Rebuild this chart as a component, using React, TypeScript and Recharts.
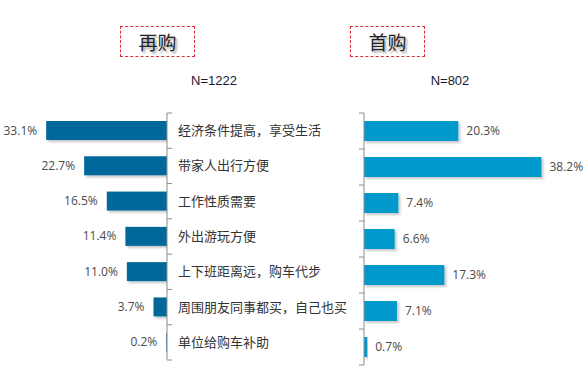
import { BarChart, Bar, XAxis, YAxis, LabelList } from "recharts";

// 购车原因（由上到下）
const reasons = [
  "经济条件提高，享受生活",
  "带家人出行方便",
  "工作性质需要",
  "外出游玩方便",
  "上下班距离远，购车代步",
  "周围朋友同事都买，自己也买",
  "单位给购车补助",
];
const rebuyPct = [33.1, 22.7, 16.5, 11.4, 11.0, 3.7, 0.2];
const firstBuyPct = [20.3, 38.2, 7.4, 6.6, 17.3, 7.1, 0.7];

const data = reasons.map((name, i) => ({
  name,
  rebuy: rebuyPct[i],
  first: firstBuyPct[i],
}));

const LABEL_FONT = "'Noto Sans CJK SC', 'Noto Sans', sans-serif";
const NUM_FONT = "'Open Sans', 'DejaVu Sans', sans-serif";
const AXIS_GREY = "#8c8c8c";

// 带阴影的柱子（兼容反向坐标轴时的负宽度）
const shadowBar = (filterId: string) => (props: any) => {
  const { x, y, width, height, fill } = props;
  const left = Math.min(x, x + width);
  const w = Math.abs(width);
  return <rect x={left} y={y} width={w} height={height} fill={fill} filter={`url(#${filterId})`} />;
};

const valueLabel = (side: "left" | "right") => (props: any) => {
  const vb = props.viewBox || props;
  const { x, y, width, height } = vb;
  const left = Math.min(x, x + width);
  const right = Math.max(x, x + width);
  const tx = side === "left" ? left - 9 : right + 8;
  return (
    <text
      x={tx}
      y={y + height / 2}
      dy={4}
      textAnchor={side === "left" ? "end" : "start"}
      fontSize={12}
      fontFamily={NUM_FONT}
      fill="#4a4a4a"
    >
      {Number(props.value).toFixed(1)}%
    </text>
  );
};

// 分类轴刻度：刻度线画在类别边界上（Excel 风格），可选附带文字
// gap = tickSize + tickMargin，用来从文字位置退回到轴线位置
const boundaryTick = (dir: 1 | -1, gap: number, band: number, withText: boolean) => (props: any) => {
  const { x, y, payload, index, visibleTicksCount } = props;
  const ax = x - dir * gap;
  const last = index === visibleTicksCount - 1;
  return (
    <g>
      <line x1={ax} x2={ax + dir * 5} y1={y - band / 2} y2={y - band / 2} stroke={AXIS_GREY} />
      {last && (
        <line x1={ax} x2={ax + dir * 5} y1={y + band / 2} y2={y + band / 2} stroke={AXIS_GREY} />
      )}
      {withText && (
        <text x={x} y={y} dy={4.5} textAnchor="start" fontSize={13} fill="#333" fontFamily={LABEL_FONT}>
          {payload.value}
        </text>
      )}
    </g>
  );
};

const shadowDefs = (id: string) => (
  <defs>
    <filter id={id} x="-10%" y="-20%" width="130%" height="160%">
      <feDropShadow dx="2" dy="2" stdDeviation="0.8" floodColor="#000" floodOpacity="0.22" />
    </filter>
  </defs>
);

const titleBox = (left: number): React.CSSProperties => ({
  position: "absolute",
  left,
  top: 26,
  width: 75,
  height: 31,
  boxSizing: "border-box",
  border: "1px dashed #d9303a",
  textAlign: "center",
  lineHeight: "29px",
  fontSize: 19,
  fontFamily: LABEL_FONT,
  color: "#222",
  textShadow: "2px 2px 2px rgba(0,0,0,0.35)",
});

const nText: React.CSSProperties = {
  position: "absolute",
  top: 73,
  fontSize: 13,
  fontFamily: "'Liberation Sans', Arial, sans-serif",
  color: "#1a1a33",
  textAlign: "center",
  width: 80,
};

const LEFT_PLOT_H = 247;
const RIGHT_PLOT_H = 252;

export default function App() {
  return (
    <div
      style={{
        position: "absolute",
        left: 0,
        top: 0,
        width: 586,
        height: 373,
        background: "#fff",
        overflow: "hidden",
      }}
    >
      <div style={titleBox(120)}>再购</div>
      <div style={titleBox(350)}>首购</div>
      <div style={{ ...nText, left: 174 }}>N=1222</div>
      <div style={{ ...nText, left: 410 }}>N=802</div>

      {/* 再购：向左的条形 */}
      <div style={{ position: "absolute", left: 0, top: 100 }}>
        <BarChart
          width={367}
          height={275}
          data={data}
          layout="vertical"
          margin={{ top: 13, right: 0, bottom: 15, left: 21 }}
        >
          {shadowDefs("shL")}
          <XAxis type="number" domain={[0, 40]} reversed hide allowDataOverflow />
          <YAxis
            type="category"
            dataKey="name"
            orientation="right"
            width={200}
            interval={0}
            stroke={AXIS_GREY}
            tickLine={false}
            tickSize={6}
            tickMargin={5}
            tick={boundaryTick(1, 11, LEFT_PLOT_H / reasons.length, true)}
          />
          <Bar
            dataKey="rebuy"
            fill="#03679a"
            barSize={19}
            isAnimationActive={false}
            shape={shadowBar("shL")}
          >
            <LabelList dataKey="rebuy" content={valueLabel("left")} />
          </Bar>
        </BarChart>
      </div>

      {/* 首购：向右的条形 */}
      <div style={{ position: "absolute", left: 354, top: 100 }}>
        <BarChart
          width={232}
          height={280}
          data={data}
          layout="vertical"
          margin={{ top: 13, right: 13, bottom: 15, left: 7 }}
        >
          {shadowDefs("shR")}
          <XAxis type="number" domain={[0, 45]} hide allowDataOverflow />
          <YAxis
            type="category"
            dataKey="name"
            orientation="left"
            width={3}
            interval={0}
            stroke={AXIS_GREY}
            tickLine={false}
            tickSize={1}
            tickMargin={1}
            tick={boundaryTick(-1, 2, RIGHT_PLOT_H / reasons.length, false)}
          />
          <Bar
            dataKey="first"
            fill="#0399cc"
            barSize={20}
            isAnimationActive={false}
            shape={shadowBar("shR")}
          >
            <LabelList dataKey="first" content={valueLabel("right")} />
          </Bar>
        </BarChart>
      </div>
    </div>
  );
}
